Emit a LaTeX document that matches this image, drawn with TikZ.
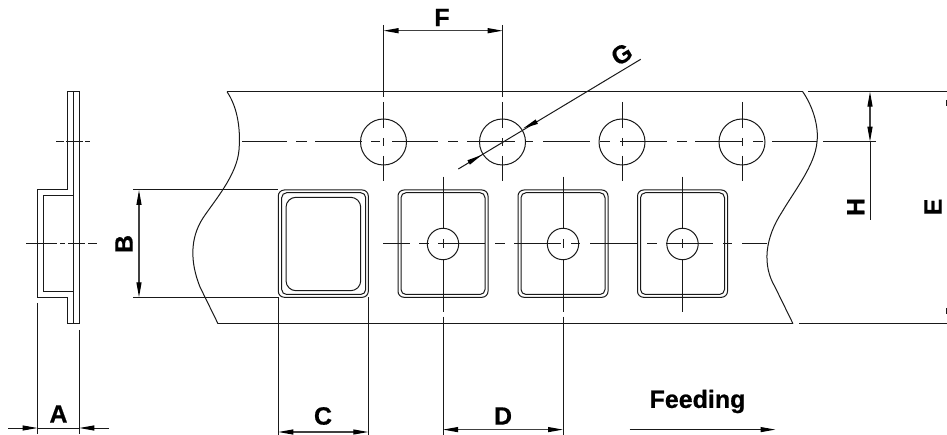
\documentclass[tikz,border=0pt]{standalone}
\usepackage{fontspec}
\setmainfont[BoldFeatures={FakeBold=0.6}]{Liberation Sans}
\usetikzlibrary{arrows.meta}
\tikzset{
  ln/.style={line width=1pt,black!90},
  dimline/.style={line width=1.1pt,black!75,{Triangle[length=15pt,width=5pt,black]}-{Triangle[length=15pt,width=5pt,black]}},
  onearrow/.style={line width=1pt,black!90,-{Triangle[length=15pt,width=5pt,black]}},
  lbl/.style={font=\fontsize{25}{25}\selectfont\bfseries,inner sep=0pt,text=black},
}
\begin{document}
\begin{tikzpicture}[x=1pt,y=-1pt]
\useasboundingbox (0,0) rectangle (947,435);
% side view
\draw[ln] (37.5,297.3) -- (37.5,190) -- (67.7,190) -- (67.7,91.7) -- (79.3,91.7) -- (79.3,324) -- (67.7,324) -- (67.7,297.3) -- cycle;
\draw[ln] (73.3,91.7) -- (73.3,324);
\draw[ln] (73.3,196) -- (43.3,196) -- (43.3,291.7) -- (73.3,291.7);
\draw[ln] (56,142) -- (64,142) (66,142) -- (83,142) (85,142) -- (90,142);
\draw[ln] (26,244) -- (57,244) (60,244) -- (65,244) (68,244) -- (85,244) (88,244) -- (97,244);
% A
\coordinate (aL) at (37.5,428); \coordinate (aR) at (79.3,428);
\draw[ln] (37.5,303) -- (37.5,434) (79.3,330) -- (79.3,434);
\draw[onearrow] (8,428) -- (aL);
\draw[onearrow] (109,428) -- (aR);
\draw[ln] (aL) -- (aR);
\node[lbl] (A) at (58.5,414) {A};
% B
\draw[ln] (133,190) -- (278,190) (133,297.3) -- (278,297.3);
\draw[dimline] (139,190) -- (139,297.3);
\node[lbl,rotate=90] (B) at (124,244) {B};
% tape
\draw[ln] (227,91.7) -- (802.7,91.7) (808,91.7) -- (947,91.7);
\draw[ln] (218,323.7) -- (793,323.7) (799,323.7) -- (947,323.7);
\draw[ln] (227,91.7) .. controls (236,105) and (241,125) .. (239,150) .. controls (237,175) and (215,200) .. (203,218) .. controls (190,238) and (190,262) .. (200,287) -- (218,323.7);
\draw[ln] (802.7,91.7) .. controls (812,105) and (819,125) .. (817,142) .. controls (815,165) and (795,190) .. (782,212) .. controls (765,238) and (762,265) .. (775,287) -- (793,323.7);
\draw[ln] (946.5,100) -- (946.5,106) (946.5,308) -- (946.5,314);
% holes
\foreach \x in {383.5,502.5,622,742} {
  \draw[ln] (\x,142) circle (23);
  \draw[ln] (\x,102) -- (\x,128) (\x,138) -- (\x,146.5) (\x,156) -- (\x,181);
}
\draw[ln] (383.5,25) -- (383.5,97) (502.7,25) -- (502.7,97);
\foreach \a/\b in {242/287,296/307,315/362,371/380,392/438,448/458,467/515,525/533,543/590,600/610,620/667,677/687,695/742,753/763,772/817,823/876} {
  \draw[ln] (\a,142) -- (\b,142);
}
% F
\draw[dimline] (383.5,30.7) -- (502.7,30.7);
\node[lbl] (F) at (442,17.5) {F};
% G
\draw[ln] (458.3,169) -- (640.7,59.3);
\draw[onearrow,line width=0pt] (470,161.7) -- (481.7,155);
\draw[onearrow,line width=0pt] (536.7,121.7) -- (523.3,128.3);
\node[lbl,rotate=31] (G) at (621.7,54.3) {G};
% H, E
\draw[ln] (870,141.7) -- (870,220);
\draw[dimline] (870,91.7) -- (870,141.7);
\node[lbl,rotate=90] (H) at (855.7,207) {H};
\node[lbl,rotate=90] (E) at (933,207) {E};
% pockets
\draw[ln,rounded corners=6pt] (278.3,190) rectangle (368.3,297.3);
\draw[ln,rounded corners=5pt] (281.7,192.7) rectangle (365.7,294.5);
\draw[ln,rounded corners=10pt] (286,197.3) rectangle (360.7,290.7);
\foreach \x in {443,563,682.5} {
  \draw[ln,rounded corners=6pt] (\x-45,190) rectangle (\x+45,297.3);
  \draw[ln,rounded corners=5pt] (\x-42,192.7) rectangle (\x+42,294.5);
  \draw[ln] (\x,244) circle (15.7);
  \draw[ln] (\x,176.7) -- (\x,228.3) (\x,239) -- (\x,248) (\x,259.7) -- (\x,311.7);
}
\foreach \a/\b in {383/410,419/429,438/485,495/505,514/561,571/580,590/637,647/657,666/713,723/732,742/767} {
  \draw[ln] (\a,244) -- (\b,244);
}
\draw[ln] (443,316.7) -- (443,435) (563,316.7) -- (563,435);
\draw[ln] (278.3,297.3) -- (278.3,435) (368.3,297.3) -- (368.3,435);
% C, D
\draw[dimline] (278.3,432) -- (368.3,432);
\node[lbl] (C) at (323,416) {C};
\draw[dimline] (443,429.6) -- (563,429.6);
\node[lbl] (D) at (503,416) {D};
% feeding
\node[lbl] (Feed) at (697.5,401.5) {Feeding};
\draw[onearrow] (629.6,429.6) -- (775.5,429.6);
\end{tikzpicture}
\end{document}
